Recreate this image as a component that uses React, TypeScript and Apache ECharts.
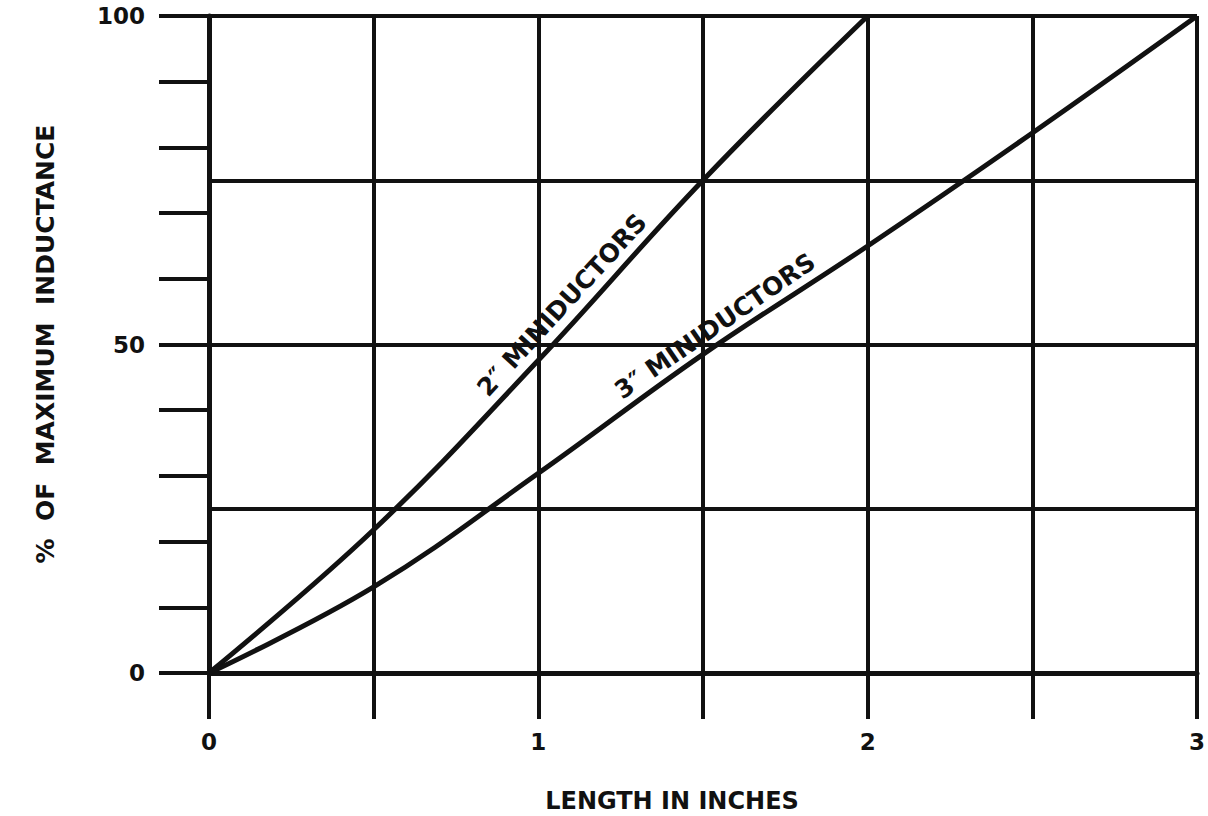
import React, { useEffect, useRef } from "react";
import * as echarts from "echarts";

const xTicks = [0, 0.5, 1, 1.5, 2, 2.5, 3];
const xLabels = ["0", "1", "2", "3"];
const yLabels = ["0", "50", "100"];

const x2 = [0, 0.5, 1, 1.5, 2];
const y2 = [0, 21.8, 47.6, 75, 100];

const x3 = [0, 0.5, 1, 1.5, 2, 2.5, 3];
const y3 = [0, 13.1, 30.4, 48.5, 65, 82.2, 100];

const label2 = "2″ MINIDUCTORS";
const label3 = "3″ MINIDUCTORS";
const xName = "LENGTH IN INCHES";
const yName = "%  OF  MAXIMUM  INDUCTANCE";

const FONT = "DejaVu Sans";
const BLACK = "#111";

export default function App() {
  const ref = useRef<HTMLDivElement>(null);
  useEffect(() => {
    if (!ref.current) return;
    const chart = echarts.init(ref.current, null, { renderer: "svg" });
    const lineStyle = { color: BLACK, width: 4 };
    const textStyle = (text: string, size: number) => ({
      text,
      fontFamily: FONT,
      fontWeight: "bold",
      fontSize: size,
      fill: BLACK,
      align: "center",
      verticalAlign: "middle",
    });
    chart.setOption({
      animation: false,
      backgroundColor: "#fff",
      grid: { left: 209, right: 11, top: 16, bottom: 143, containLabel: false },
      xAxis: {
        type: "value",
        min: xTicks[0],
        max: xTicks[xTicks.length - 1],
        interval: 0.5,
        axisLine: { show: true, lineStyle: { ...lineStyle, width: 5 } },
        axisTick: { show: true, length: 46, lineStyle },
        splitLine: { show: true, lineStyle },
        axisLabel: {
          margin: 57,
          fontFamily: FONT,
          fontWeight: "bold",
          fontSize: 23,
          color: BLACK,
          formatter: (v: number) => (xLabels.includes(String(v)) ? String(v) : ""),
        },
      },
      yAxis: [
        {
          type: "value",
          min: 0,
          max: 100,
          interval: 25,
          position: "left",
          axisLine: { show: true, lineStyle: { ...lineStyle, width: 5 } },
          axisTick: { show: false },
          axisLabel: { show: false },
          splitLine: { show: true, lineStyle },
        },
        {
          type: "value",
          min: 0,
          max: 100,
          interval: 10,
          position: "left",
          axisLine: { show: false },
          axisTick: { show: true, length: 50, lineStyle },
          splitLine: { show: false },
          axisLabel: {
            margin: 64,
            fontFamily: FONT,
            fontWeight: "bold",
            fontSize: 23,
            color: BLACK,
            formatter: (v: number) => (yLabels.includes(String(v)) ? String(v) : ""),
          },
        },
      ],
      series: [
        {
          type: "line",
          yAxisIndex: 0,
          data: x2.map((x, i) => [x, y2[i]]),
          showSymbol: false,
          symbol: "none",
          smooth: 0.4,
          lineStyle: { color: BLACK, width: 5 },
          clip: false,
        },
        {
          type: "line",
          yAxisIndex: 0,
          data: x3.map((x, i) => [x, y3[i]]),
          showSymbol: false,
          symbol: "none",
          smooth: 0.4,
          lineStyle: { color: BLACK, width: 5 },
          clip: false,
        },
      ],
      graphic: [
        {
          type: "text",
          x: 562,
          y: 305,
          rotation: (47.5 * Math.PI) / 180,
          style: textStyle(label2, 25),
        },
        {
          type: "text",
          x: 715,
          y: 326,
          rotation: (34.5 * Math.PI) / 180,
          style: textStyle(label3, 25),
        },
        {
          type: "text",
          x: 672,
          y: 801,
          style: textStyle(xName, 24),
        },
        {
          type: "text",
          x: 45,
          y: 344,
          rotation: Math.PI / 2,
          style: textStyle(yName, 25),
        },
      ],
    });
    return () => chart.dispose();
  }, []);
  return (
    <div
      ref={ref}
      style={{ position: "fixed", left: 0, top: 0, width: 1208, height: 816, background: "#fff" }}
    />
  );
}
